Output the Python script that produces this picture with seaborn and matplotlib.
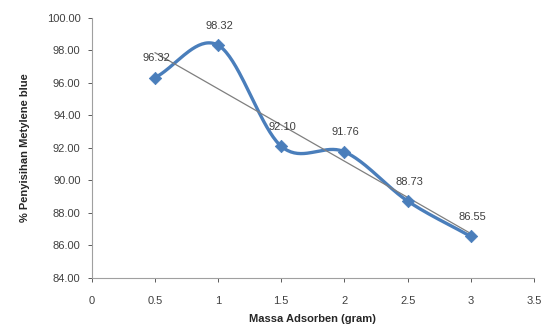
import numpy as np
import pandas as pd
import matplotlib
matplotlib.use("Agg")
import matplotlib.pyplot as plt
import seaborn as sns

# --- data ---
massa = [0.5, 1.0, 1.5, 2.0, 2.5, 3.0]
penyisihan = [96.32, 98.32, 92.10, 91.76, 88.73, 86.55]
labels = ["96.32", "98.32", "92.10", "91.76", "88.73", "86.55"]
x_ticks = [0, 0.5, 1, 1.5, 2, 2.5, 3, 3.5]
x_ticklabels = ["0", "0.5", "1", "1.5", "2", "2.5", "3", "3.5"]
y_ticks = [84, 86, 88, 90, 92, 94, 96, 98, 100]

df = pd.DataFrame({"massa": massa, "penyisihan": penyisihan})


def smooth(x, y, n=40):
    # Catmull-Rom spline, like Excel "smoothed line"
    x = np.asarray(x, float)
    y = np.asarray(y, float)
    px = np.concatenate([[2 * x[0] - x[1]], x, [2 * x[-1] - x[-2]]])
    py = np.concatenate([[2 * y[0] - y[1]], y, [2 * y[-1] - y[-2]]])
    xs, ys = [], []
    t = np.linspace(0, 1, n)
    for i in range(1, len(px) - 2):
        for arr, out in ((px, xs), (py, ys)):
            p0, p1, p2, p3 = arr[i - 1], arr[i], arr[i + 1], arr[i + 2]
            out.extend(0.5 * ((2 * p1) + (-p0 + p2) * t
                              + (2 * p0 - 5 * p1 + 4 * p2 - p3) * t ** 2
                              + (-p0 + 3 * p1 - 3 * p2 + p3) * t ** 3))
    return np.array(xs), np.array(ys)


sns.set_theme(style="white")
plt.rcParams["font.family"] = ["Liberation Sans", "DejaVu Sans"]

fig = plt.figure(figsize=(5.46, 3.32), dpi=100)
ax = fig.add_axes([0.168, 0.163, 0.81, 0.783])

blue = "#4a7ebb"
sx, sy = smooth(massa, penyisihan)
sns.lineplot(x=sx, y=sy, ax=ax, color=blue, linewidth=2.4, sort=False)
sns.scatterplot(data=df, x="massa", y="penyisihan", ax=ax, marker="D",
                color=blue, s=40, edgecolor=blue, zorder=3)

# linear trendline
k, b = np.polyfit(massa, penyisihan, 1)
tx = np.array([massa[0], massa[-1]])
sns.lineplot(x=tx, y=k * tx + b, ax=ax, color="#7f7f7f", linewidth=0.9)

for xv, yv, lab in zip(massa, penyisihan, labels):
    ax.annotate(lab, (xv, yv), xytext=(1, 14), textcoords="offset points",
                ha="center", va="center", fontsize=8, color="#404040",
                zorder=4)

ax.set_xlim(0, 3.5)
ax.set_ylim(84, 100)
ax.set_xticks(x_ticks)
ax.set_xticklabels(x_ticklabels)
ax.set_yticks(y_ticks)
ax.set_yticklabels([f"{v:.2f}" for v in y_ticks])
ax.tick_params(axis="both", labelsize=8, colors="#404040", length=3,
               width=0.6, direction="out", left=True, bottom=True)
ax.tick_params(axis="x", pad=10)
ax.tick_params(axis="y", pad=5)

for side in ("top", "right"):
    ax.spines[side].set_visible(False)
for side in ("left", "bottom"):
    ax.spines[side].set_color("#a0a0a0")
    ax.spines[side].set_linewidth(0.8)

ax.set_xlabel("Massa Adsorben (gram)", fontsize=8, fontweight="bold", labelpad=6)
ax.set_ylabel("% Penyisihan Metylene blue", fontsize=8, fontweight="bold", labelpad=12)

fig.savefig("out.png", dpi=100)
